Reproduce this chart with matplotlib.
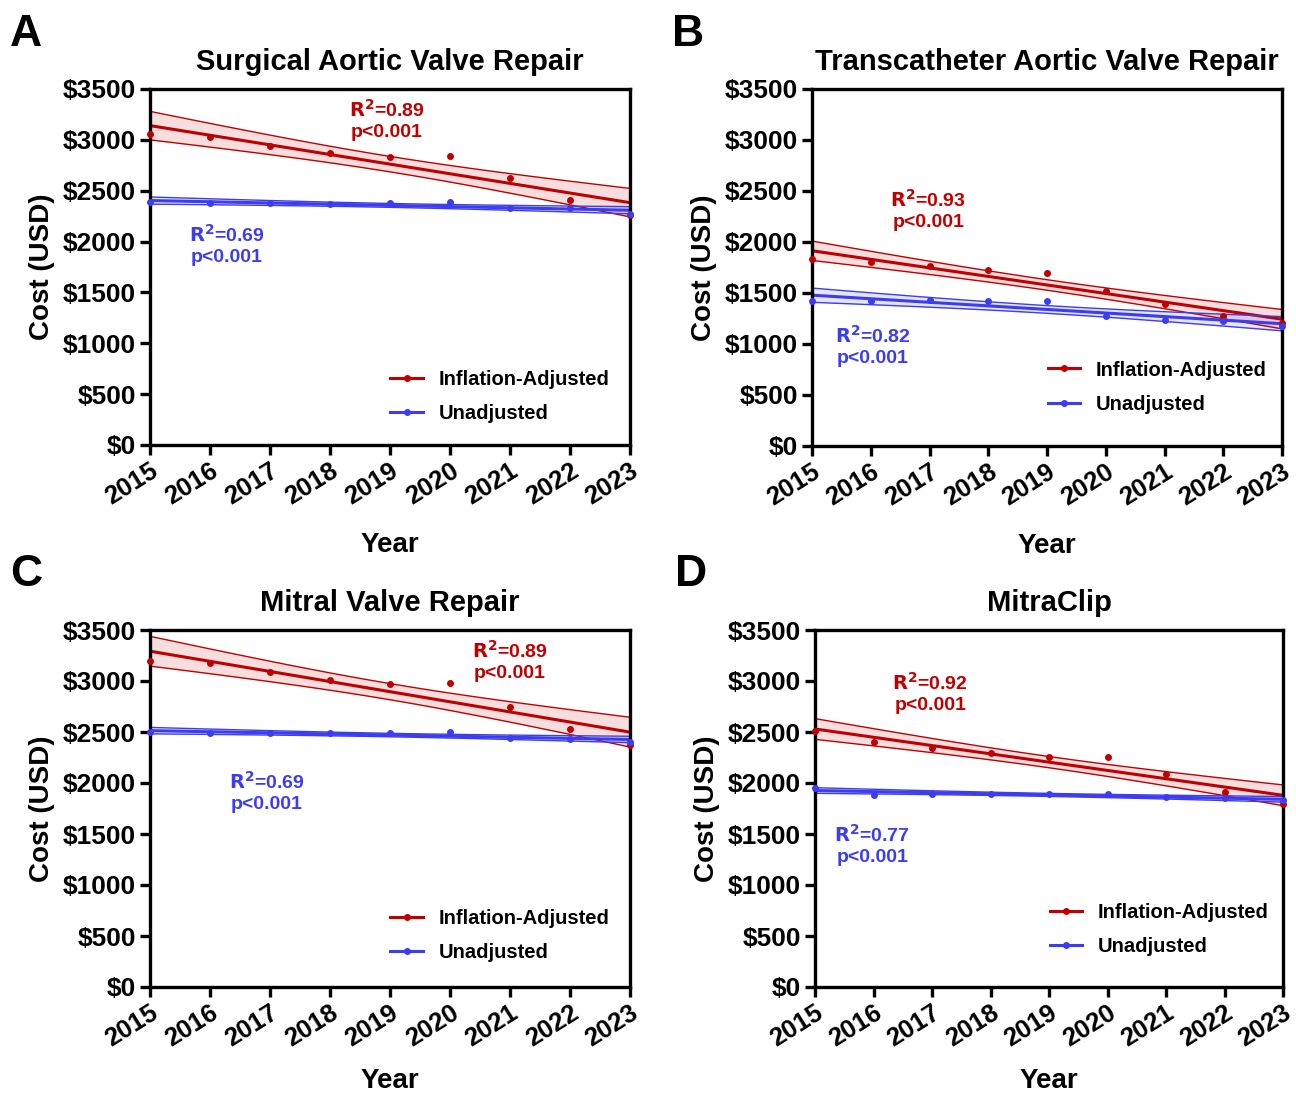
import matplotlib
matplotlib.use("Agg")
import matplotlib.pyplot as plt
import numpy as np

plt.rcParams['font.family'] = ['Liberation Sans', 'DejaVu Sans']
plt.rcParams['font.weight'] = 'bold'

# Data (USD per year)
years = [2015, 2016, 2017, 2018, 2019, 2020, 2021, 2022, 2023]
panel_letters = ['A', 'B', 'C', 'D']
titles = ['Surgical Aortic Valve Repair', 'Transcatheter Aortic Valve Repair',
          'Mitral Valve Repair', 'MitraClip']

adjusted_savr = [3054, 3024, 2939, 2873, 2828, 2838, 2628, 2408, 2260]
unadjusted_savr = [2386, 2383, 2376, 2370, 2376, 2386, 2327, 2327, 2270]
adjusted_tavr = [1830, 1807, 1762, 1722, 1696, 1517, 1392, 1277, 1206]
unadjusted_tavr = [1425, 1422, 1431, 1425, 1425, 1277, 1235, 1229, 1180]
adjusted_mvr = [3199, 3173, 3085, 3010, 2967, 2977, 2748, 2526, 2373]
unadjusted_mvr = [2497, 2494, 2487, 2487, 2494, 2500, 2438, 2428, 2405]
adjusted_clip = [2510, 2399, 2340, 2294, 2255, 2252, 2085, 1912, 1794]
unadjusted_clip = [1954, 1885, 1889, 1892, 1895, 1892, 1860, 1850, 1833]

r2_adjusted = ['0.89', '0.93', '0.89', '0.92']
r2_unadjusted = ['0.69', '0.82', '0.69', '0.77']

adjusted = [adjusted_savr, adjusted_tavr, adjusted_mvr, adjusted_clip]
unadjusted = [unadjusted_savr, unadjusted_tavr, unadjusted_mvr, unadjusted_clip]

# annotation centres (data coords)
red_text_pos = [(2018.95, 3195), (2016.98, 2314), (2021.0, 3196), (2016.97, 2882)]
blue_text_pos = [(2016.28, 1966), (2016.03, 980), (2016.95, 1912), (2015.98, 1392)]
legend_pos = [(0.48, 0.135), (0.48, 0.165), (0.48, 0.145), (0.48, 0.16)]
xlabel_pad = [16, 16, 12, 12]

# axes rectangles in pixels: left, right, top, bottom
W, H = 1296, 1097
rects = [(150, 630, 89, 445), (812, 1282, 89, 446),
         (150, 630, 630, 987), (815, 1283, 630, 987)]

RED = '#C00000'
BLUE = '#3C3CF0'


def fit_with_band(ax, x, y, color, label):
    x = np.array(x, dtype=float)
    y = np.array(y, dtype=float)
    slope, intercept = np.polyfit(x, y, 1)
    xx = np.linspace(x.min(), x.max(), 100)
    yy = slope * xx + intercept
    n = len(x)
    resid = y - (slope * x + intercept)
    s = np.sqrt(np.sum(resid ** 2) / (n - 2))
    sxx = np.sum((x - x.mean()) ** 2)
    se = s * np.sqrt(1.0 / n + (xx - x.mean()) ** 2 / sxx)
    t = 2.365  # t(0.975, df=7)
    lo, hi = yy - t * se, yy + t * se
    ax.fill_between(xx, lo, hi, color=color, alpha=0.13, lw=0)
    ax.plot(xx, lo, color=color, lw=1.0)
    ax.plot(xx, hi, color=color, lw=1.0)
    ax.plot(xx, yy, color=color, lw=2.2)
    ax.plot(x, y, 'o', color=color, ms=4, clip_on=False, zorder=5)
    # legend proxy
    ax.plot([], [], color=color, lw=2.2, marker='o', ms=4, label=label)


fig = plt.figure(figsize=(W / 100, H / 100), dpi=100)

for i in range(4):
    l, r, t, b = rects[i]
    ax = fig.add_axes([l / W, 1 - b / H, (r - l) / W, (b - t) / H])
    fit_with_band(ax, years, adjusted[i], RED, 'Inflation-Adjusted')
    fit_with_band(ax, years, unadjusted[i], BLUE, 'Unadjusted')

    ax.set_xlim(2015, 2023)
    ax.set_ylim(0, 3500)
    ax.set_xticks(years)
    ax.set_xticklabels([str(y) for y in years], rotation=32, ha='right',
                       va='top', rotation_mode='anchor', fontsize=18.5,
                       fontweight='bold')
    yt = np.arange(0, 3501, 500)
    ax.set_yticks(yt)
    ax.set_yticklabels(['$' + str(v) for v in yt], fontsize=19, fontweight='bold')
    for sp in ax.spines.values():
        sp.set_linewidth(2.4)
    ax.tick_params(direction='out', width=2.4, length=7, pad=3)

    ax.set_title(titles[i], fontsize=21, fontweight='bold', pad=14)
    ax.set_ylabel('Cost (USD)', fontsize=20, fontweight='bold', labelpad=6)
    ax.set_xlabel('Year', fontsize=20, fontweight='bold', labelpad=xlabel_pad[i])

    ax.text(*red_text_pos[i], '$\\mathbf{R^2}$=' + r2_adjusted[i] + '\np<0.001',
            color=RED, fontsize=14, fontweight='bold', ha='center', va='center',
            multialignment='center')
    ax.text(*blue_text_pos[i], '$\\mathbf{R^2}$=' + r2_unadjusted[i] + '\np<0.001',
            color=BLUE, fontsize=14, fontweight='bold', ha='center', va='center',
            multialignment='center')

    leg = ax.legend(loc='center left', bbox_to_anchor=legend_pos[i], frameon=False,
                    fontsize=14.5, handlelength=1.6, handletextpad=0.8,
                    labelspacing=0.75, borderpad=0)
    for txt in leg.get_texts():
        txt.set_fontweight('bold')

    fig.text(l / W - 0.108, 1 - (t - 55) / H, panel_letters[i], fontsize=32,
             fontweight='bold', ha='left', va='center')

fig.savefig('out.png', dpi=100)
